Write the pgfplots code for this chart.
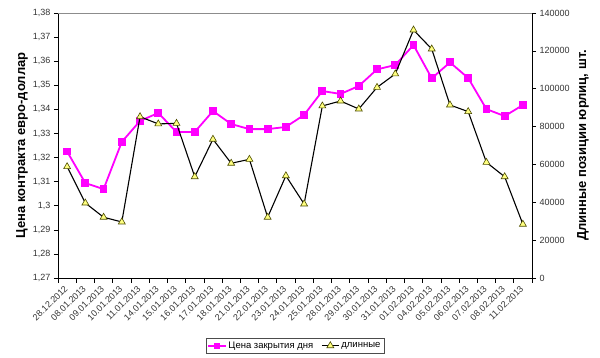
\documentclass[border=0pt]{standalone}
\usepackage{pgfplots}
\pgfplotsset{compat=1.18}
\usepackage{fontspec}
\setmainfont{Liberation Sans}
\definecolor{pinkline}{HTML}{FF00FF}
\definecolor{trifill}{HTML}{FFFF80}
\definecolor{triedge}{HTML}{4D4D00}
\pgfplotstableread{
x price longs
0  1.3225 58800
1  1.3094 39600
2  1.3069 32100
3  1.3265 29600
4  1.3352 85200
5  1.3385 81400
6  1.3306 81700
7  1.3306 53500
8  1.3393 73300
9  1.3339 60600
10 1.3318 62700
11 1.3318 32100
12 1.3327 54000
13 1.3377 39100
14 1.3476 90900
15 1.3464 93500
16 1.3497 89300
17 1.3566 100700
18 1.3584 107800
19 1.3667 131000
20 1.3529 121000
21 1.3595 91400
22 1.3530 87900
23 1.3401 61100
24 1.3372 53500
25 1.3418 28400
}\datatable
\begin{document}
\begin{tikzpicture}
\useasboundingbox (-58pt,-80pt) rectangle (542pt,278pt);
\pgfplotsset{
  every axis/.append style={
    scale only axis, width=474pt, height=265pt,
    xmin=-0.5, xmax=25.5,
    tick align=outside,
    major tick length=4pt,
    minor tick length=5pt,
    tick style={black, line width=0.6pt},
    axis line style={black, line width=0.8pt},
    /pgf/number format/assume math mode=true,
    tick label style={font=\fontsize{9}{10}\selectfont, color=black!80},
    label style={font=\fontsize{13}{15}\selectfont\bfseries},
  }
}
\begin{axis}[
  axis x line*=bottom, axis y line*=left,
  ymin=1.27, ymax=1.38,
  ytick={1.27,1.28,...,1.385},
  yticklabel style={/pgf/number format/use comma,/pgf/number format/fixed,/pgf/number format/precision=2},
  xtick={0,...,25},
  xticklabels={28.12.2012,08.01.2013,09.01.2013,10.01.2013,11.01.2013,14.01.2013,15.01.2013,16.01.2013,17.01.2013,18.01.2013,21.01.2013,22.01.2013,23.01.2013,24.01.2013,25.01.2013,28.01.2013,29.01.2013,30.01.2013,31.01.2013,01.02.2013,04.02.2013,05.02.2013,06.02.2013,07.02.2013,08.02.2013,11.02.2013},
  major x tick style={draw=none},
  minor xtick={-0.5,0.5,...,25.6},
  xticklabel style={rotate=45, anchor=east, yshift=-3pt, xshift=-1pt},
  ylabel={Цена контракта евро-доллар},
  ylabel style={at={(axis description cs:-0.076,0.5)}, anchor=center},
]
\draw[black!45, line width=0.8pt] (rel axis cs:0,1) -- (rel axis cs:1,1);
\addplot[pinkline, line width=1.8pt, mark=square*, mark size=3pt, mark options={fill=pinkline, draw=pinkline}] table[x=x, y=price] {\datatable};
\end{axis}
\begin{axis}[
  axis y line*=right, axis x line=none,
  ymin=0, ymax=140000,
  ytick={0,20000,...,140000},
  scaled y ticks=false,
  yticklabel style={/pgf/number format/fixed, /pgf/number format/1000 sep={}},
  ylabel={Длинные позиции юрлиц, шт.},
  ylabel style={at={(axis description cs:1.1076,0.5)}, anchor=center, rotate=0},
  legend columns=2,
  legend style={at={(axis description cs:0.5,-0.226)}, anchor=north, draw=black!70, line width=0.6pt,
    font=\fontsize{9.5}{10}\selectfont, inner sep=1.5pt,
    /tikz/every even column/.append style={column sep=6pt}},
]
\addlegendimage{pinkline, line width=1.8pt, mark=square*, mark size=2.2pt, mark options={fill=pinkline, draw=pinkline}}
\addlegendentry{Цена закрытия дня}
\addplot[black, line width=1.1pt, mark=triangle*, mark size=4pt, mark options={fill=trifill, draw=triedge, line width=0.6pt}] table[x=x, y=longs] {\datatable};
\addlegendentry{длинные}
\end{axis}
\end{tikzpicture}
\end{document}
